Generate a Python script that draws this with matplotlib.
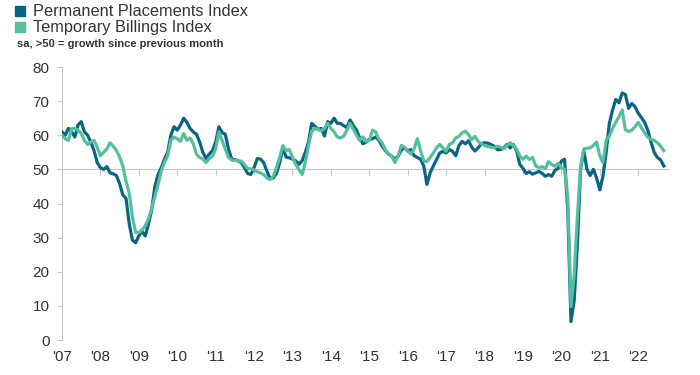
import numpy as np
import matplotlib
matplotlib.use("Agg")
import matplotlib.pyplot as plt
from matplotlib.lines import Line2D

# monthly index values, Jan 2007 .. Sep 2022
start_year = 2007

perm = [
    61, 60, 62, 61, 59.5, 63, 64, 61, 60, 58, 55.5, 52,                  # 2007
    50.5, 50, 50.8, 49, 48.7, 48.2, 45.8, 42.5, 41.5, 34, 29.3, 28.5,    # 2008
    30.5, 31.8, 30.5, 34, 38, 45, 48.5, 50.5, 53, 55, 60, 62.5,          # 2009
    61.5, 63, 65, 63.8, 62, 61, 60.3, 58, 55, 53.2, 54.5, 55.5,          # 2010
    58, 62.5, 60.8, 60.3, 56, 53, 52.9, 52.5, 52, 50.5, 48.8, 48.5,      # 2011
    50.5, 53.2, 53, 52, 49.5, 47.3, 47.5, 48.8, 52, 56.3, 53.6, 53.4,    # 2012
    53, 52.5, 51.5, 52.5, 55, 58, 63.5, 62.6, 61.7, 62, 59.8, 64,        # 2013
    63.5, 65, 63.5, 63.5, 62.8, 62.2, 64.5, 62.8, 61.5, 59.2, 57.5, 58,  # 2014
    58.8, 59, 59.5, 58.5, 56.8, 55.5, 54.5, 53.9, 53, 53.9, 55.7, 56.3,  # 2015
    55.4, 55.8, 54, 53.5, 53, 51, 45.6, 49, 51, 52.9, 54.8, 55.3,        # 2016
    54.8, 55.8, 55.3, 54, 57, 58.2, 57.5, 58.4, 56.5, 55.4, 56.3, 57.5,  # 2017
    57.8, 57.7, 57.3, 56.8, 55.8, 55.8, 56.3, 57.3, 56.3, 57.3, 55.5, 51.5,  # 2018
    50.3, 48.8, 49.3, 48.6, 49, 49.4, 48.8, 48, 48.5, 48, 49.7, 50.3,    # 2019
    52.4, 53, 38, 5.4, 11.5, 28, 50, 55.5, 50, 48.2, 50, 47.5,           # 2020
    44, 48, 55, 63.5, 67.4, 70.5, 69.5, 72.4, 71.9, 67.9, 69.3, 68.4,    # 2021
    66.5, 65.2, 63.8, 61.5, 58, 55, 53.5, 52.8, 51,                      # 2022
]

temp = [
    60, 59, 58.5, 62, 62, 61.5, 60.5, 58.5, 57.3, 58, 58.5, 56.5,        # 2007
    54, 55, 56, 57.8, 56.8, 55.5, 53.6, 51, 46.5, 43, 36, 31.5,          # 2008
    31.5, 32.2, 33.5, 35.5, 38.5, 42, 45.5, 49.5, 52, 54, 58.5, 59.5,    # 2009
    59, 58.2, 60.5, 58.5, 59.2, 57.5, 54.5, 53.5, 53, 52, 53.2, 53.8,    # 2010
    56, 61, 58.5, 56, 53.5, 52.7, 52.7, 52.5, 52.4, 51.4, 50.2, 50.2,    # 2011
    49.8, 49.3, 49, 48.5, 47.5, 47, 48, 50.5, 53.5, 57, 55.5, 55.8,      # 2012
    53.5, 51.5, 50, 48.5, 52, 57, 61.2, 62, 61.7, 61.3, 62, 63.5,        # 2013
    62, 61, 59.5, 59.2, 59.8, 61.5, 63.5, 61.8, 60, 58.5, 59.5, 58.2,    # 2014
    58.5, 61.5, 61, 58.8, 57.8, 55.8, 54.5, 53.9, 52, 54, 57, 56.5,      # 2015
    55.3, 54.5, 56, 59, 55.5, 52.5, 52.3, 53.5, 54.8, 56.3, 57.3, 56.3,  # 2016
    55.3, 57.3, 57.8, 59.2, 59.7, 60.7, 61.2, 60.2, 58.7, 59.7, 58.2, 57.5,  # 2017
    57, 56.7, 56.5, 56.3, 56.8, 56.5, 56, 57, 57.8, 57, 56, 54,          # 2018
    53, 53.9, 52.9, 53.5, 51, 50.5, 50.8, 50.2, 52.3, 51.4, 50.9, 51.8,  # 2019
    50.5, 50, 42, 9.8, 19, 36, 50.8, 56, 56.2, 56.3, 57, 58,             # 2020
    54, 52, 58.6, 59.8, 62, 63.8, 65.5, 67.4, 61.6, 61.1, 61.5, 62.5,    # 2021
    63.8, 62.2, 60.8, 59.4, 58.8, 58.5, 57.8, 56.8, 55.5,                # 2022
]

series_names = ["Permanent Placements Index", "Temporary Billings Index"]
year_ticks = list(range(2007, 2023))
year_labels = ["'%02d" % (y % 100) for y in year_ticks]
y_ticks = [0, 10, 20, 30, 40, 50, 60, 70, 80]
subtitle = "sa, >50 = growth since previous month"

dark = "#0a6483"
light = "#55bf9d"
grey = "#c6c6c6"
text_col = "#333333"

plt.rcParams["font.family"] = ["Liberation Sans", "DejaVu Sans"]

fig = plt.figure(figsize=(7, 3.75), dpi=100)
ax = fig.add_axes([0.0886, 0.0933, 0.867, 0.728])

months = start_year + np.arange(len(perm)) / 12
ax.plot(months, perm, color=dark, lw=2.3, solid_joinstyle="round", zorder=3)
ax.plot(months, temp, color=light, lw=2.3, solid_joinstyle="round", zorder=4)

ax.set_xlim(2007, 2022.8)
ax.set_ylim(0, 80)

for s in ["top", "right"]:
    ax.spines[s].set_visible(False)
ax.spines["left"].set_color(grey)
ax.spines["bottom"].set_color(grey)
ax.spines["bottom"].set_position(("data", 50))
ax.spines["bottom"].set_zorder(1)

ax.set_yticks(y_ticks)
ax.tick_params(axis="y", direction="out", length=3.5, width=0.8, color=grey,
               labelcolor=text_col, labelsize=11, pad=5.5)
ax.set_xticks(year_ticks)
ax.tick_params(axis="x", direction="out", length=4, width=0.8, color=grey,
               labelbottom=False)

# year labels sit under the 0 line, ticks stay on the 50 line
sec = ax.secondary_xaxis(0.0)
sec.set_xticks(year_ticks, labels=year_labels)
sec.tick_params(length=0, pad=7, labelsize=11, labelcolor=text_col)
sec.spines["bottom"].set_visible(False)

handles = [Line2D([], [], marker="s", linestyle="none", markersize=7.5, color=c)
           for c in (dark, light)]
fig.legend(handles, series_names, loc="upper left", bbox_to_anchor=(0.022, 0.988),
           frameon=False, fontsize=11.8, handlelength=0.6, handletextpad=0.5,
           labelspacing=0.05, borderpad=0, borderaxespad=0, labelcolor=text_col)
fig.text(0.024, 0.882, subtitle, fontsize=8, fontweight="bold", color=text_col,
         va="center")

fig.savefig("out.png", dpi=100)
